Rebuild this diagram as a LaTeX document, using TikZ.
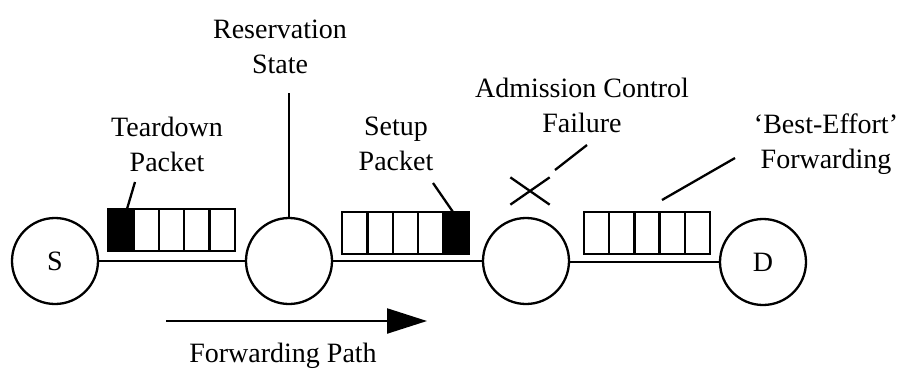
\documentclass[tikz,border=0pt]{standalone}
\usepackage{fontspec}
\setmainfont{Liberation Serif}
\usetikzlibrary{arrows.meta, shapes.misc}

\begin{document}
\begin{tikzpicture}
	[x=1pt, y=-1pt, line width=2.3pt,
	 every node/.style={font=\fontsize{28}{35}\selectfont},
	 router/.style={circle, draw, minimum size=86pt, inner sep=0pt},
	 cell/.style={rectangle, draw, minimum width=25.4pt, minimum height=42pt, inner sep=0pt},
	 note/.style={align=center, inner sep=0pt}]
	\useasboundingbox (0,0) rectangle (904,370);

	% hosts and routers
	\node[router] (S) at (55,261) {S};
	\node[router] (R1) at (289,261) {};
	\node[router] (R2) at (526,261) {};
	\node[router] (D) at (763,262) {D};
	\draw (S) -- (R1);
	\draw (R1) -- (R2);
	\draw (R2.east) ++(0,1) coordinate (R2out) (R2out) -- (D);

	% queues
	\node[cell, fill=black] (tq0) at (120.7,230) {};
	\foreach \i in {1,...,4}
		\node[cell] (tq\i) at ({108+25.4*(\i+0.5)},230) {};
	\foreach \i in {0,...,3}
		\node[cell] (sq\i) at ({342+25.4*(\i+0.5)},233) {};
	\node[cell, fill=black] (sq4) at ({342+25.4*4.5},233) {};
	\foreach \i in {0,...,4}
		\node[cell] (bq\i) at ({584+25.2*(\i+0.5)},233) {};

	% labels
	\node[note] (resv) at (280,47) {Reservation\\State};
	\node[note] (tear) at (167,144) {Teardown\\Packet};
	\node[note] (setup) at (396,144) {Setup\\Packet};
	\node[note] (adm) at (582,105) {Admission Control\\Failure};
	\node[note] (best) at (826,144) {`Best-Effort'\\Forwarding};
	\node[note] (fwd) at (283,356) {Forwarding Path};

	% pointers
	\coordinate (resvtip) at (289,93);
	\coordinate (teartip) at (135,182);
	\coordinate (tearend) at (127,209);
	\coordinate (setuptip) at (433,183);
	\coordinate (setupend) at (453,212);
	\coordinate (admtip) at (587,145);
	\coordinate (admend) at (555,170);
	\coordinate (besttip) at (735,158);
	\coordinate (bestend) at (662,200);
	\draw (resvtip) -- (R1);
	\draw (teartip) -- (tearend);
	\draw (setuptip) -- (setupend);
	\draw (admtip) -- (admend);
	\draw (besttip) -- (bestend);
	\node[cross out, draw, minimum width=37pt, minimum height=25pt, inner sep=0pt] (fail) at (530,191) {};

	% forwarding direction
	\coordinate (fwdA) at (166,321);
	\coordinate (fwdB) at (427,321);
	\draw[-{Triangle[length=40pt, width=25pt]}] (fwdA) -- (fwdB);
\end{tikzpicture}
\end{document}
